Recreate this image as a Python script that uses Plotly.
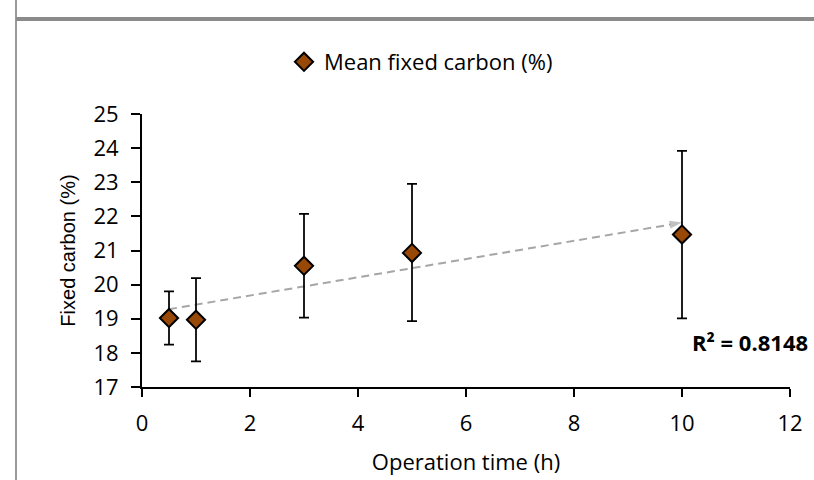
import numpy as np
import plotly.graph_objects as go

# ---- data ----
time_h = [0.5, 1, 3, 5, 10]
mean_fc = [19.02, 18.97, 20.55, 20.93, 21.47]
err_plus = [0.78, 1.22, 1.52, 2.02, 2.45]
err_minus = [0.78, 1.22, 1.52, 2.00, 2.46]
series_name = "Mean fixed carbon (%)"
r2_label = "R² = 0.8148"
x_title = "Operation time (h)"
y_title = "Fixed carbon (%)"

# linear trendline from the data
slope, intercept = np.polyfit(time_h, mean_fc, 1)
trend_x = [min(time_h), max(time_h)]
trend_y = [slope * v + intercept for v in trend_x]

W, H = 814, 480
L, R, T, B = 142, 24, 114, 93
pw, ph = W - L - R, H - T - B

def px(xp):
    return (xp - L) / pw

def py(yp):
    return 1 - (yp - T) / ph

font_main = "Open Sans"
FS = 22
fig = go.Figure()

fig.add_trace(go.Scatter(
    x=trend_x, y=trend_y, mode="lines+markers",
    line=dict(color="#A6A6A6", width=2, dash="8px,5px"),
    marker=dict(symbol=["circle", "arrow"], size=[0, 13], color="#A6A6A6",
                angleref="previous", line=dict(width=0)),
    showlegend=False, hoverinfo="skip",
))

fig.add_trace(go.Scatter(
    x=time_h, y=mean_fc, mode="markers", name=series_name,
    marker=dict(symbol="diamond", size=14, color="#984807",
                line=dict(color="black", width=2)),
    error_y=dict(type="data", symmetric=False, array=err_plus, arrayminus=err_minus,
                 color="black", thickness=1.75, width=5),
))

fig.update_layout(
    width=W, height=H,
    margin=dict(l=L, r=R, t=T, b=B, autoexpand=False),
    paper_bgcolor="white", plot_bgcolor="white",
    font=dict(family=font_main, size=FS, color="black"),
    showlegend=True,
    legend=dict(orientation="h", x=px(284), xanchor="left", y=py(62), yanchor="middle",
                font=dict(family=font_main, size=FS), bgcolor="rgba(0,0,0,0)",
                itemclick=False),
    xaxis=dict(range=[0, 12], dtick=2, showgrid=False, zeroline=False, automargin=False,
               showline=True, linecolor="black", linewidth=2,
               ticks="outside", ticklen=8, tickwidth=2, tickcolor="black",
               title=dict(text=x_title, font=dict(family=font_main, size=FS), standoff=18),
               tickfont=dict(family=font_main, size=FS), ticklabelstandoff=8),
    yaxis=dict(range=[17, 25], dtick=1, showgrid=False, zeroline=False, automargin=False,
               showline=True, linecolor="black", linewidth=2,
               ticks="outside", ticklen=9, tickwidth=2, tickcolor="black",
               title=dict(text=y_title, font=dict(family="Liberation Sans", size=20), standoff=12),
               tickfont=dict(family=font_main, size=FS), ticklabelstandoff=8),
    annotations=[dict(text="<b>" + r2_label + "</b>", xref="paper", yref="paper",
                      x=px(810), y=py(342), xanchor="right", yanchor="middle",
                      showarrow=False, font=dict(family=font_main, size=22))],
    shapes=[
        dict(type="line", xref="paper", yref="paper", x0=px(16), x1=px(16),
             y0=py(0), y1=py(480), line=dict(color="#9A9A9A", width=2)),
        dict(type="line", xref="paper", yref="paper", x0=px(16), x1=px(814),
             y0=py(19), y1=py(19), line=dict(color="#8A8A8A", width=4)),
    ],
)

fig.write_html("out.html")
